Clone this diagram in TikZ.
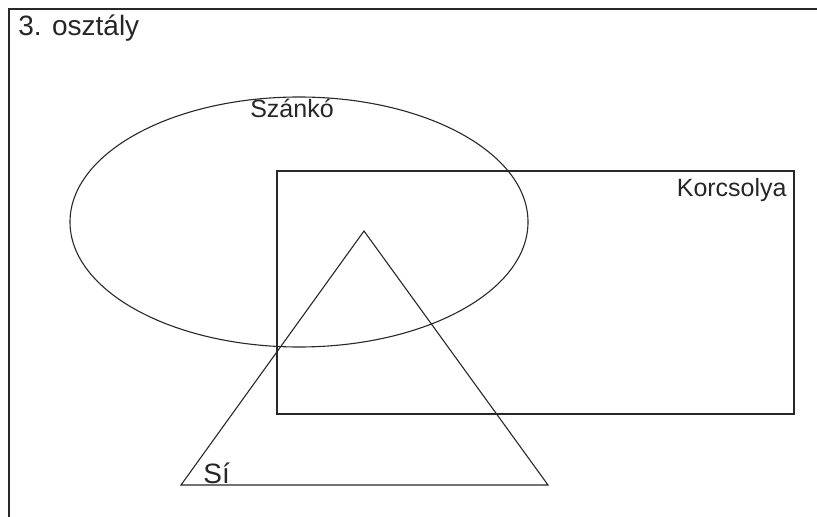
\documentclass[tikz,border=0pt]{standalone}
\usepackage{fontspec}
\setmainfont{Liberation Sans}
\usepackage{tikz}
\usetikzlibrary{positioning}
\definecolor{linegray}{RGB}{40,40,40}

\begin{document}
\begin{tikzpicture}[
x=0.5pt, y=-0.5pt,
every node/.style={inner sep=0pt, text=black!85},
setline/.style={draw=linegray, line width=0.55pt},
big_label/.style={font=\fontsize{14}{16}\selectfont, anchor=base west},
set_label/.style={font=\fontsize{12.5}{14}\selectfont}
]

\useasboundingbox (0,0) rectangle (817,517);

% Frame

\draw[setline] (9,530) -- (9,9) -- (830,9);
\node[big_label] (title) at (18,36) {3. osztály};

% Szánkó

\draw[setline] (299,222) ellipse [x radius=229, y radius=125];
\node[set_label, anchor=base] (szanko) at (292,118) {Szánkó};

% Korcsolya

\draw[setline] (277,171) rectangle (794,414);
\node[set_label, anchor=base east] (korcsolya) at (787,197) {Korcsolya};

% Sí

\draw[setline] (364,231) -- (548,485) -- (181,485) -- cycle;
\node[big_label] (si) at (203,483) {Sí};

\end{tikzpicture}
\end{document}
